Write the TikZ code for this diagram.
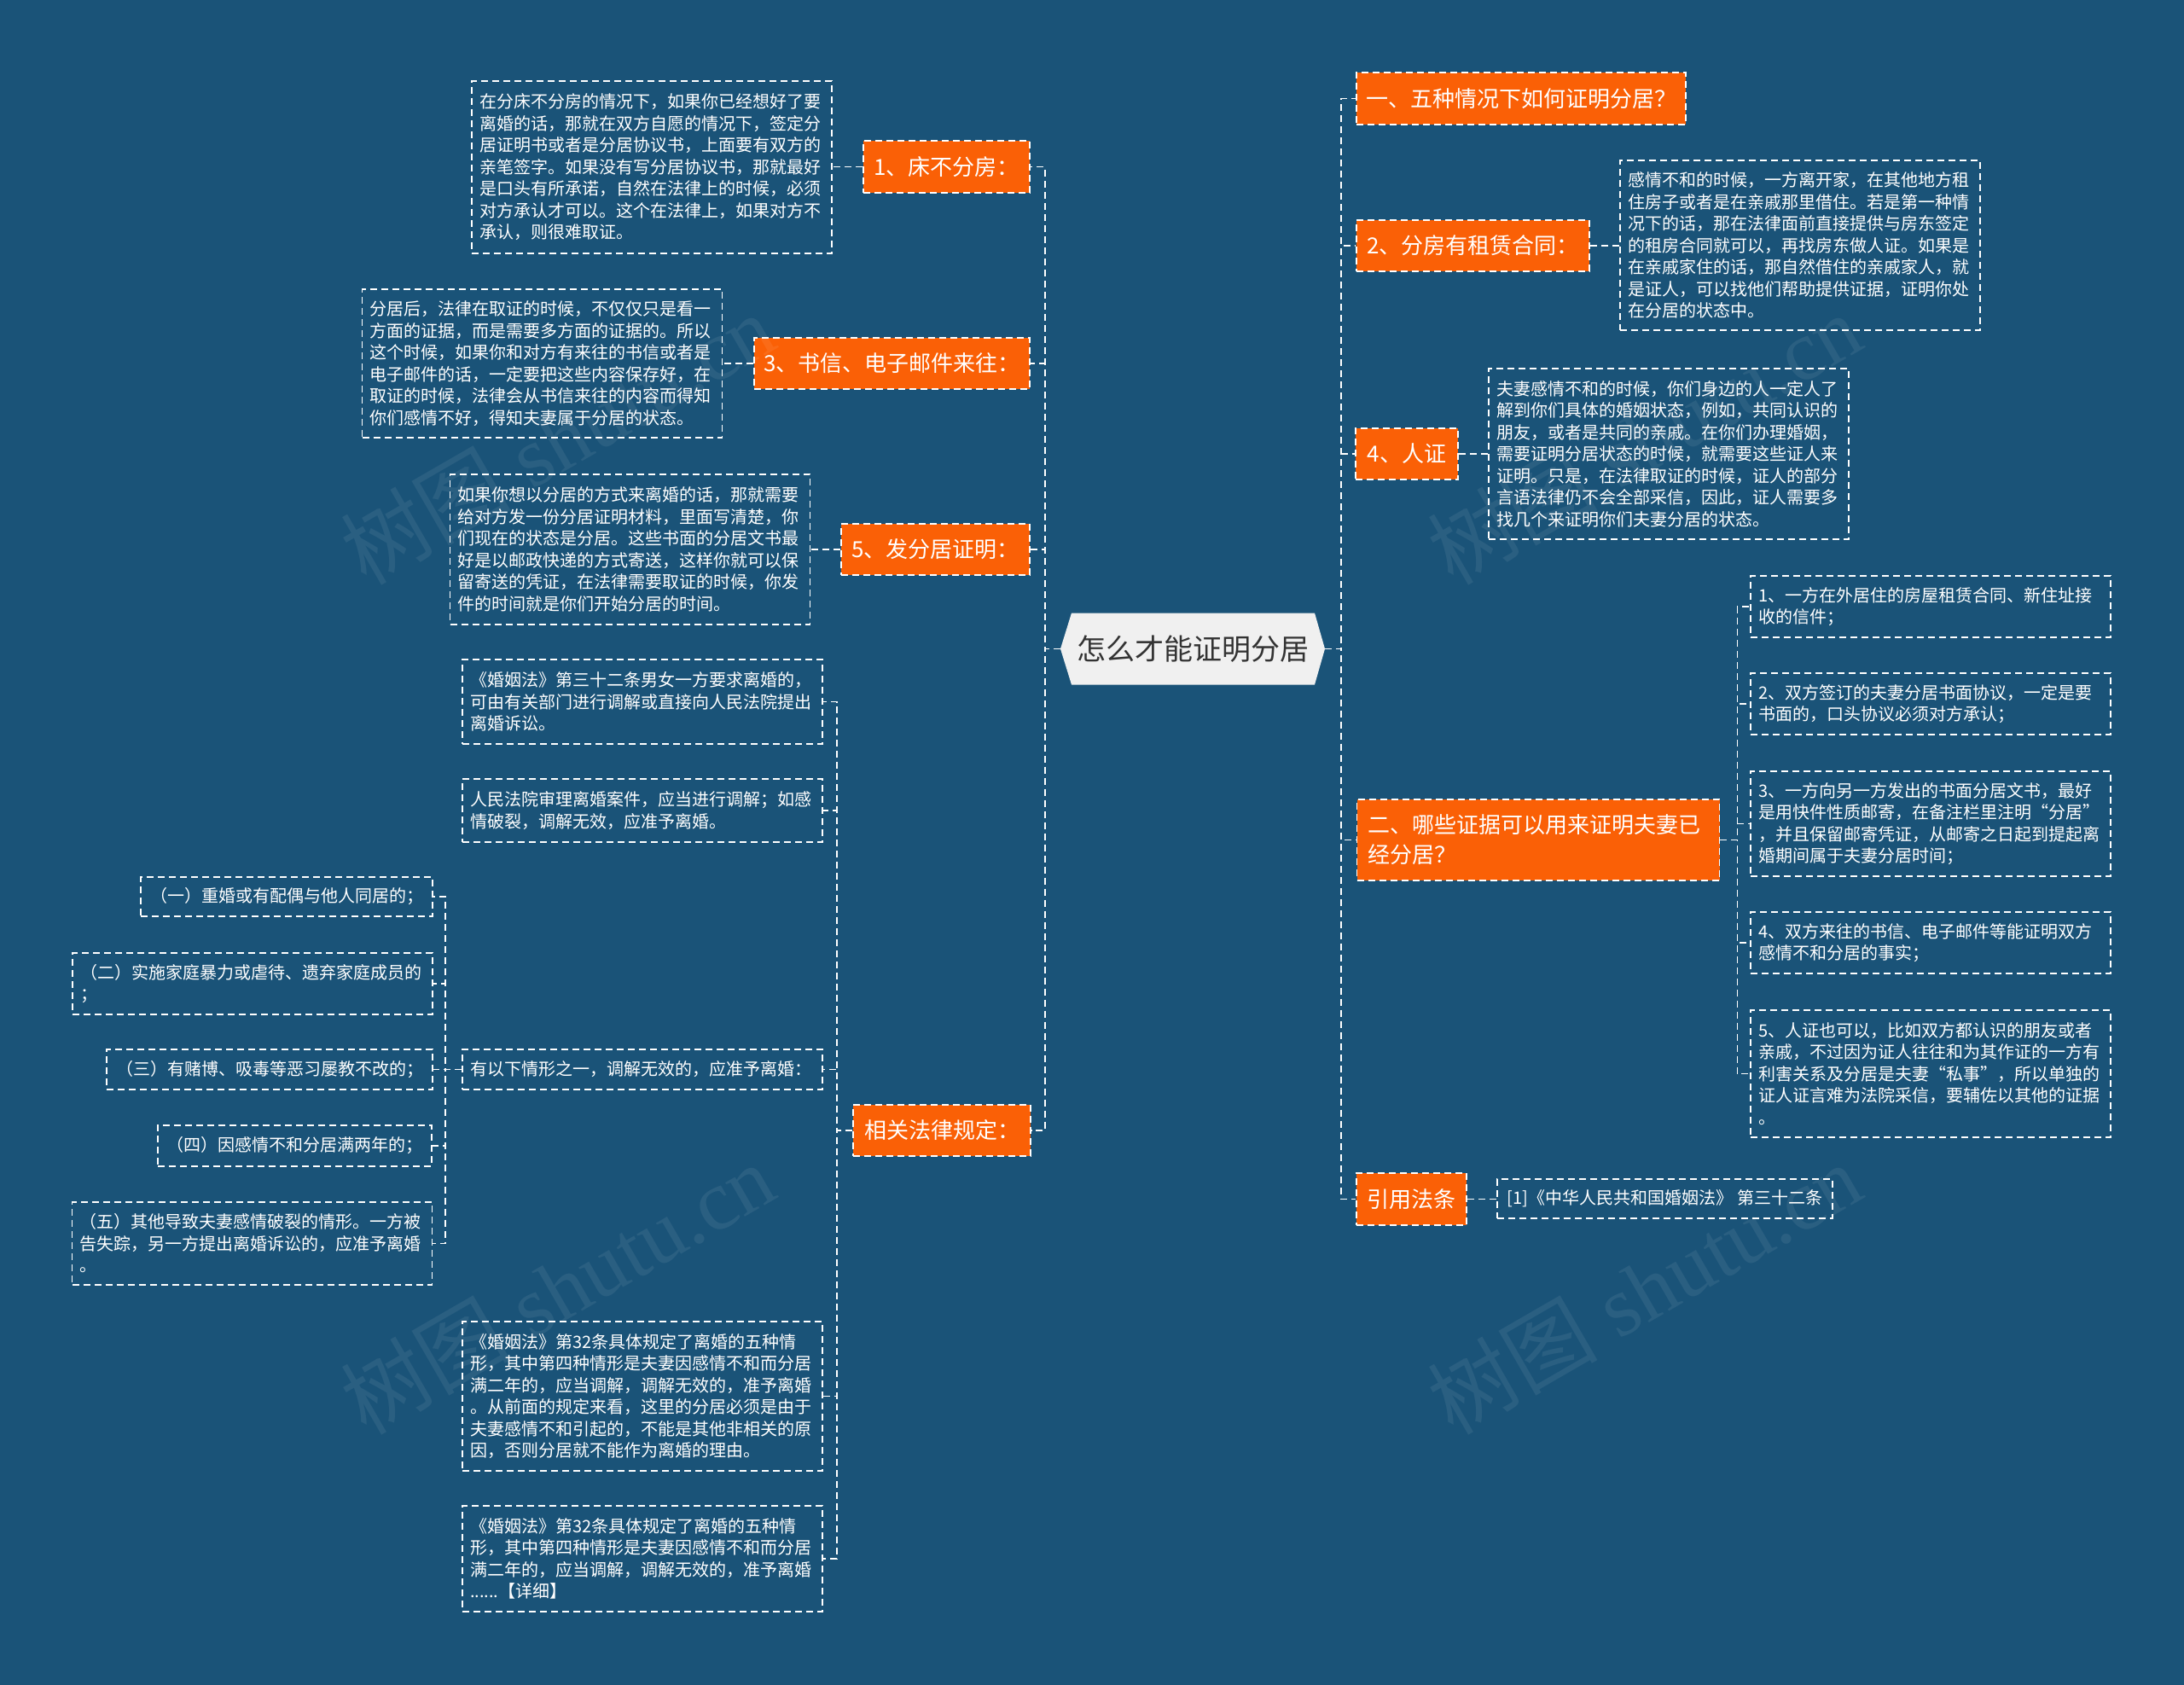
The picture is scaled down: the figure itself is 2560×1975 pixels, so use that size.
\documentclass[tikz,border=0pt]{standalone}
\usepackage{fontspec}
\newfontfamily\cjk{Noto Sans CJK SC}
\newfontfamily\wmserif{Liberation Serif}
\usetikzlibrary{backgrounds}
\definecolor{bgblue}{RGB}{26,83,120}
\definecolor{boxorange}{RGB}{250,96,6}
\definecolor{rootgray}{RGB}{240,240,240}
\definecolor{roottext}{RGB}{51,51,51}
\tikzset{
  dashline/.style={draw=white, line width=1.6pt, dash pattern=on 8pt off 5pt},
  conn/.style={dashline},
  box/.style 2 args={minimum width=#1pt, minimum height=#2pt},
  topic/.style={dashline, fill=boxorange, text=white, font=\cjk\fontsize{26}{35}\selectfont, inner sep=0pt, align=center},
  detail/.style={dashline, text=white, font=\cjk\fontsize{20}{25.5}\selectfont, inner xsep=9pt, inner ysep=0pt, text width=404pt, align=left, minimum height=#1pt},
  shortdetail/.style={dashline, text=white, font=\cjk\fontsize{20}{25.5}\selectfont, inner sep=0pt, align=center},
  rootstyle/.style={minimum width=310pt, minimum height=84pt, inner sep=0pt, text=roottext,
    font=\cjk\fontsize{34}{40}\selectfont, fill=bgblue,
    path picture={\fill[rootgray] (path picture bounding box.west)
      -- ([xshift=13pt]path picture bounding box.north west)
      -- ([xshift=-12pt]path picture bounding box.north east)
      -- (path picture bounding box.east)
      -- ([xshift=-12pt]path picture bounding box.south east)
      -- ([xshift=13pt]path picture bounding box.south west) -- cycle;}},
  wm/.style={text=white, text opacity=0.07, font=\wmserif\fontsize{100}{110}\selectfont, rotate=30, inner sep=0pt}
}
\begin{document}
\begin{tikzpicture}[x=1pt,y=-1pt]
\begin{scope}[on background layer]
\fill[bgblue] (0,0) rectangle (2560,1975);
\end{scope}
\useasboundingbox (0,0) rectangle (2560,1975);

% root
\node[rootstyle] (root) at (1398,760.5) {怎么才能证明分居};

% left topics
\node[topic, box={195}{61}] (l1) at (1109.5,195.5) {1、床不分房：};
\node[topic, box={323}{60}] (l2) at (1045.5,426) {3、书信、电子邮件来往：};
\node[topic, box={221}{60}] (l3) at (1096.5,644) {5、发分居证明：};
\node[topic, box={208}{60}] (l4) at (1104,1325) {相关法律规定：};

% left details
\node[detail=202] (l1d) at (764,196) {在分床不分房的情况下，如果你已经想好了要\\离婚的话，那就在双方自愿的情况下，签定分\\居证明书或者是分居协议书，上面要有双方的\\亲笔签字。如果没有写分居协议书，那就最好\\是口头有所承诺，自然在法律上的时候，必须\\对方承认才可以。这个在法律上，如果对方不\\承认，则很难取证。};
\node[detail=174] (l2d) at (635.5,426) {分居后，法律在取证的时候，不仅仅只是看一\\方面的证据，而是需要多方面的证据的。所以\\这个时候，如果你和对方有来往的书信或者是\\电子邮件的话，一定要把这些内容保存好，在\\取证的时候，法律会从书信来往的内容而得知\\你们感情不好，得知夫妻属于分居的状态。};
\node[detail=176] (l3d) at (738.5,644) {如果你想以分居的方式来离婚的话，那就需要\\给对方发一份分居证明材料，里面写清楚，你\\们现在的状态是分居。这些书面的分居文书最\\好是以邮政快递的方式寄送，这样你就可以保\\留寄送的凭证，在法律需要取证的时候，你发\\件的时间就是你们开始分居的时间。};

% law children
\node[detail=99] (l4a) at (753,822.5) {《婚姻法》第三十二条男女一方要求离婚的，\\可由有关部门进行调解或直接向人民法院提出\\离婚诉讼。};
\node[detail=74] (l4b) at (753,950) {人民法院审理离婚案件，应当进行调解；如感\\情破裂，调解无效，应准予离婚。};
\node[detail=47] (l4c) at (753,1253.5) {有以下情形之一，调解无效的，应准予离婚：};
\node[detail=175] (l4d) at (753,1636.5) {《婚姻法》第32条具体规定了离婚的五种情\\形，其中第四种情形是夫妻因感情不和而分居\\满二年的，应当调解，调解无效的，准予离婚\\。从前面的规定来看，这里的分居必须是由于\\夫妻感情不和引起的，不能是其他非相关的原\\因，否则分居就不能作为离婚的理由。};
\node[detail=124] (l4e) at (753,1827) {《婚姻法》第32条具体规定了离婚的五种情\\形，其中第四种情形是夫妻因感情不和而分居\\满二年的，应当调解，调解无效的，准予离婚\\......【详细】};

% five situations
\node[shortdetail, box={342}{46}] (c1) at (336,1051) {（一）重婚或有配偶与他人同居的；};
\node[detail=72] (c2) at (296,1153) {（二）实施家庭暴力或虐待、遗弃家庭成员的\\；};
\node[shortdetail, box={382}{47}] (c3) at (316,1253.5) {（三）有赌博、吸毒等恶习屡教不改的；};
\node[shortdetail, box={321}{48}] (c4) at (345.5,1343) {（四）因感情不和分居满两年的；};
\node[detail=97] (c5) at (295.5,1457.5) {（五）其他导致夫妻感情破裂的情形。一方被\\告失踪，另一方提出离婚诉讼的，应准予离婚\\。};

% right topics
\node[topic, box={386}{61}] (r1) at (1783,115.5) {一、五种情况下如何证明分居？};
\node[topic, box={273}{60}] (r2) at (1726.5,288) {2、分房有租赁合同：};
\node[topic, box={120}{60}] (r3) at (1649,532) {4、人证};
\node[topic, box={425}{95}, align=left, text width=400pt, inner xsep=12.5pt] (r4) at (1803,984.5) {二、哪些证据可以用来证明夫妻已\\经分居？};
\node[topic, box={129}{61}] (r5) at (1654.5,1405.5) {引用法条};

% right details
\node[detail=199] (r2d) at (2110,287.5) {感情不和的时候，一方离开家，在其他地方租\\住房子或者是在亲戚那里借住。若是第一种情\\况下的话，那在法律面前直接提供与房东签定\\的租房合同就可以，再找房东做人证。如果是\\在亲戚家住的话，那自然借住的亲戚家人，就\\是证人，可以找他们帮助提供证据，证明你处\\在分居的状态中。};
\node[detail=200] (r3d) at (1956,532) {夫妻感情不和的时候，你们身边的人一定人了\\解到你们具体的婚姻状态，例如，共同认识的\\朋友，或者是共同的亲戚。在你们办理婚姻，\\需要证明分居状态的时候，就需要这些证人来\\证明。只是，在法律取证的时候，证人的部分\\言语法律仍不会全部采信，因此，证人需要多\\找几个来证明你们夫妻分居的状态。};
\node[detail=72] (r4a) at (2263,711) {1、一方在外居住的房屋租赁合同、新住址接\\收的信件；};
\node[detail=72] (r4b) at (2263,825) {2、双方签订的夫妻分居书面协议，一定是要\\书面的，口头协议必须对方承认；};
\node[detail=123] (r4c) at (2263,965.5) {3、一方向另一方发出的书面分居文书，最好\\是用快件性质邮寄，在备注栏里注明“分居”\\，并且保留邮寄凭证，从邮寄之日起到提起离\\婚期间属于夫妻分居时间；};
\node[detail=72] (r4d) at (2263,1105) {4、双方来往的书信、电子邮件等能证明双方\\感情不和分居的事实；};
\node[detail=149] (r4e) at (2263,1258.5) {5、人证也可以，比如双方都认识的朋友或者\\亲戚，不过因为证人往往和为其作证的一方有\\利害关系及分居是夫妻“私事”，所以单独的\\证人证言难为法院采信，要辅佐以其他的证据\\。};
\node[shortdetail, box={393}{46}] (r5d) at (1951.5,1405) {[1]《中华人民共和国婚姻法》 第三十二条};

% junction points
\coordinate (trunkL) at ([xshift=-18pt]root.west);
\coordinate (trunkR) at ([xshift=19pt]root.east);
\coordinate (l4j) at ([xshift=-18pt]l4.west);
\coordinate (cj) at ([xshift=-19pt]l4c.west);
\coordinate (r4j) at ([xshift=20pt]r4.east);

\begin{scope}[on background layer]
\foreach \n in {l1,l2,l3,l4} \draw[conn] (root.west) -- (trunkL) |- (\n.east);
\foreach \n in {r1,r2,r3,r4,r5} \draw[conn] (root.east) -- (trunkR) |- (\n.west);
\draw[conn] (l1.west) -- (l1.west -| l1d.east);
\draw[conn] (l2.west) -- (l2.west -| l2d.east);
\draw[conn] (l3.west) -- (l3.west -| l3d.east);
\foreach \n in {a,b,c,d,e} \draw[conn] (l4.west) -- (l4j) |- (l4\n.east);
\foreach \n in {1,2,3,4,5} \draw[conn] (l4c.west) -- (cj) |- (c\n.east);
\draw[conn] (r2.east) -- (r2.east -| r2d.west);
\draw[conn] (r3.east) -- (r3.east -| r3d.west);
\foreach \n in {a,b,c,d,e} \draw[conn] (r4.east) -- (r4j) |- (r4\n.west);
\draw[conn] (r5.east) -- (r5.east -| r5d.west);
\end{scope}

% watermarks
\node[wm] (wm1) at (653,514) {{\cjk 树图} shutu.cn};
\node[wm] (wm2) at (653,1510) {{\cjk 树图} shutu.cn};
\node[wm] (wm3) at (1927,514) {{\cjk 树图} shutu.cn};
\node[wm] (wm4) at (1927,1510) {{\cjk 树图} shutu.cn};
\end{tikzpicture}
\end{document}
